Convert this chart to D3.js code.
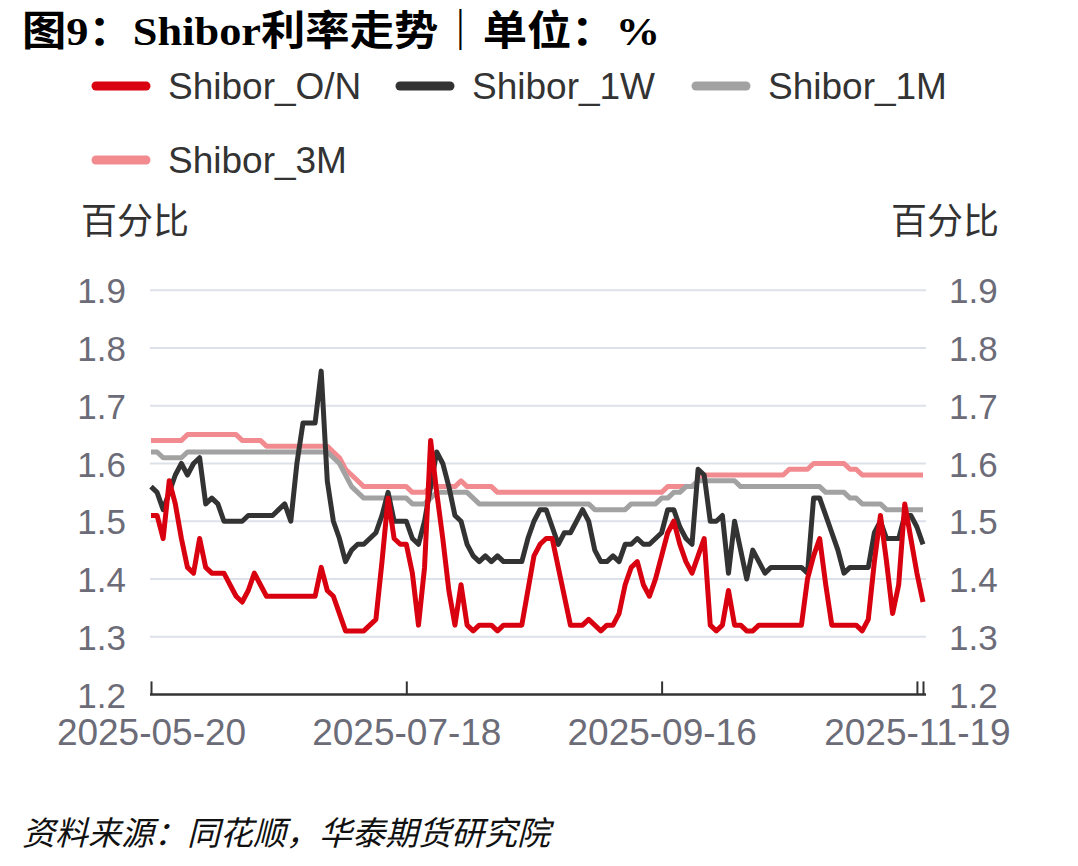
<!DOCTYPE html>
<html><head><meta charset="utf-8">
<script src="https://cdn.jsdelivr.net/npm/d3@7"></script>
<style>body{margin:0;background:#fff}svg{display:block}</style>
</head><body><svg id="c" width="1078" height="866"></svg>
<script>
const seriesNames = ["Shibor_O/N","Shibor_1W","Shibor_1M","Shibor_3M"];
const seriesColors = ["#d9000f","#333333","#a2a2a2","#f28b90"];
const tickLabels = ["2025-05-20","2025-07-18","2025-09-16","2025-11-19"];
const tickIndex = [0,42,84,126];
const yTicks = [1.2,1.3,1.4,1.5,1.6,1.7,1.8,1.9];

const onValues = [
1.51,1.51,1.47,1.57,1.53,1.47,1.42,1.41,1.47,1.42,
1.41,1.41,1.41,1.39,1.37,1.36,1.38,1.41,1.39,1.37,
1.37,1.37,1.37,1.37,1.37,1.37,1.37,1.37,1.42,1.38,
1.37,1.34,1.31,1.31,1.31,1.31,1.32,1.33,1.43,1.54,
1.47,1.46,1.46,1.41,1.32,1.42,1.64,1.55,1.47,1.38,
1.32,1.39,1.32,1.31,1.32,1.32,1.32,1.31,1.32,1.32,
1.32,1.32,1.38,1.44,1.46,1.47,1.47,1.42,1.37,1.32,
1.32,1.32,1.33,1.32,1.31,1.32,1.32,1.34,1.39,1.42,
1.43,1.39,1.37,1.40,1.44,1.48,1.50,1.46,1.43,1.41,
1.44,1.47,1.32,1.31,1.32,1.38,1.32,1.32,1.31,1.31,
1.32,1.32,1.32,1.32,1.32,1.32,1.32,1.32,1.40,1.44,
1.47,1.39,1.32,1.32,1.32,1.32,1.32,1.31,1.33,1.43,
1.51,1.43,1.34,1.39,1.53,1.47,1.41,1.36];

const w1Values = [
1.56,1.55,1.52,1.55,1.58,1.60,1.58,1.60,1.61,1.53,
1.54,1.53,1.50,1.50,1.50,1.50,1.51,1.51,1.51,1.51,
1.51,1.52,1.53,1.50,1.60,1.67,1.67,1.67,1.76,1.57,
1.50,1.47,1.43,1.45,1.46,1.46,1.47,1.48,1.51,1.55,
1.50,1.50,1.50,1.47,1.46,1.50,1.56,1.62,1.60,1.56,
1.51,1.50,1.46,1.44,1.43,1.44,1.43,1.44,1.43,1.43,
1.43,1.43,1.47,1.50,1.52,1.52,1.49,1.46,1.48,1.48,
1.50,1.52,1.50,1.45,1.43,1.43,1.44,1.43,1.46,1.46,
1.47,1.46,1.46,1.47,1.48,1.52,1.52,1.49,1.47,1.46,
1.59,1.58,1.50,1.50,1.51,1.41,1.50,1.45,1.40,1.45,
1.43,1.41,1.42,1.42,1.42,1.42,1.42,1.42,1.41,1.54,
1.54,1.51,1.48,1.45,1.41,1.42,1.42,1.42,1.42,1.48,
1.50,1.47,1.47,1.47,1.51,1.51,1.49,1.46];

const m1Values = [
1.62,1.62,1.61,1.61,1.61,1.61,1.62,1.62,1.62,1.62,
1.62,1.62,1.62,1.62,1.62,1.62,1.62,1.62,1.62,1.62,
1.62,1.62,1.62,1.62,1.62,1.62,1.62,1.62,1.62,1.62,
1.61,1.60,1.58,1.56,1.55,1.54,1.54,1.54,1.54,1.54,
1.54,1.54,1.54,1.53,1.53,1.53,1.54,1.55,1.55,1.55,
1.55,1.55,1.55,1.54,1.53,1.53,1.53,1.53,1.53,1.53,
1.53,1.53,1.53,1.53,1.53,1.53,1.53,1.53,1.53,1.53,
1.53,1.53,1.53,1.52,1.52,1.52,1.52,1.52,1.52,1.53,
1.53,1.53,1.53,1.53,1.54,1.54,1.55,1.55,1.56,1.56,
1.57,1.57,1.57,1.57,1.57,1.57,1.57,1.56,1.56,1.56,
1.56,1.56,1.56,1.56,1.56,1.56,1.56,1.56,1.56,1.56,
1.56,1.55,1.55,1.55,1.55,1.54,1.54,1.53,1.53,1.53,
1.53,1.52,1.52,1.52,1.52,1.52,1.52,1.52];

const m3Values = [
1.64,1.64,1.64,1.64,1.64,1.64,1.65,1.65,1.65,1.65,
1.65,1.65,1.65,1.65,1.65,1.64,1.64,1.64,1.64,1.63,
1.63,1.63,1.63,1.63,1.63,1.63,1.63,1.63,1.63,1.63,
1.62,1.61,1.59,1.58,1.57,1.56,1.56,1.56,1.56,1.56,
1.56,1.56,1.56,1.55,1.55,1.55,1.56,1.56,1.56,1.56,
1.56,1.57,1.56,1.56,1.56,1.56,1.56,1.55,1.55,1.55,
1.55,1.55,1.55,1.55,1.55,1.55,1.55,1.55,1.55,1.55,
1.55,1.55,1.55,1.55,1.55,1.55,1.55,1.55,1.55,1.55,
1.55,1.55,1.55,1.55,1.55,1.56,1.56,1.56,1.56,1.56,
1.57,1.58,1.58,1.58,1.58,1.58,1.58,1.58,1.58,1.58,
1.58,1.58,1.58,1.58,1.58,1.59,1.59,1.59,1.59,1.60,
1.60,1.60,1.60,1.60,1.60,1.59,1.59,1.58,1.58,1.58,
1.58,1.58,1.58,1.58,1.58,1.58,1.58,1.58];

const allSeries = [onValues, w1Values, m1Values, m3Values];

const svg = d3.select("#c");
const x = d3.scaleLinear().domain([0, onValues.length - 1]).range([151, 923]);
const y = d3.scaleLinear().domain([1.2, 1.9]).range([694.4, 290.3]);

const sansFont = "'Liberation Sans', Arial, 'Noto Sans CJK SC', sans-serif";
const cjkFont = "'Noto Sans CJK SC', sans-serif";

// Title
svg.append("text")
  .attr("x", 22).attr("y", 45)
  .attr("font-family", "'Liberation Serif', 'Noto Sans CJK SC', serif")
  .attr("font-weight", "bold").attr("font-size", 41).attr("fill", "#000")
  .attr("textLength", 638).attr("lengthAdjust", "spacingAndGlyphs")
  .text("图9：Shibor利率走势｜单位：%");

// Legend
const legendPos = [[92, 86], [396, 86], [692, 86], [92, 160]];
seriesNames.forEach((name, i) => {
  const [lx, ly] = legendPos[i];
  svg.append("line").attr("x1", lx + 4).attr("x2", lx + 54).attr("y1", ly).attr("y2", ly)
    .attr("stroke", seriesColors[i]).attr("stroke-width", 9).attr("stroke-linecap", "round");
  svg.append("text").attr("x", lx + 76).attr("y", ly + 13)
    .attr("font-family", sansFont).attr("font-size", 37).attr("fill", "#333")
    .text(name);
});

// Axis name labels
svg.append("text").attr("x", 81).attr("y", 234).attr("font-family", cjkFont)
  .attr("font-size", 36).attr("fill", "#333").text("百分比");
svg.append("text").attr("x", 999).attr("y", 234).attr("text-anchor", "end").attr("font-family", cjkFont)
  .attr("font-size", 36).attr("fill", "#333").text("百分比");

// Grid lines
svg.append("g").selectAll("line").data(yTicks.filter(t => t > 1.2)).join("line")
  .attr("x1", 150).attr("x2", 926).attr("y1", d => y(d)).attr("y2", d => y(d))
  .attr("stroke", "#dde1ea").attr("stroke-width", 2);

// Y axes labels
const leftAxis = d3.axisLeft(y).tickValues(yTicks).tickSize(0).tickPadding(0).tickFormat(d3.format(".1f"));
const gl = svg.append("g").attr("transform", "translate(126,0)").call(leftAxis);
gl.select(".domain").remove();
gl.selectAll("text").attr("font-family", sansFont).attr("font-size", 35).attr("fill", "#6c6c78").attr("dy", "0.36em");

const rightAxis = d3.axisRight(y).tickValues(yTicks).tickSize(0).tickPadding(0).tickFormat(d3.format(".1f"));
const gr = svg.append("g").attr("transform", "translate(949,0)").call(rightAxis);
gr.select(".domain").remove();
gr.selectAll("text").attr("font-family", sansFont).attr("font-size", 35).attr("fill", "#6c6c78").attr("dy", "0.36em");

// X axis
const xAxis = d3.axisBottom(x).tickValues(tickIndex.concat([onValues.length - 1]))
  .tickSizeInner(-13).tickSizeOuter(0).tickPadding(24)
  .tickFormat(d => { const k = tickIndex.indexOf(d); return k >= 0 ? tickLabels[k] : ""; });
const gx = svg.append("g").attr("transform", `translate(0,${y(1.2)})`).call(xAxis);
gx.select(".domain").attr("stroke", "#333").attr("stroke-width", 2.5).attr("d", `M150,0H${x(onValues.length - 1) + 3}`);
gx.selectAll(".tick line").attr("stroke", "#333").attr("stroke-width", 2);
gx.selectAll("text").attr("font-family", sansFont).attr("font-size", 37).attr("fill", "#6c6c78").attr("dy", "0.71em");

// Lines (draw 3M first, O/N last on top)
const line = d3.line().x((d, i) => x(i)).y(d => y(d)).curve(d3.curveLinear);
[3, 2, 1, 0].forEach(k => {
  svg.append("path").datum(allSeries[k]).attr("d", line)
    .attr("fill", "none").attr("stroke", seriesColors[k]).attr("stroke-width", 5)
    .attr("stroke-linejoin", "round").attr("stroke-linecap", "butt");
});

// Source
svg.append("text").attr("x", 22).attr("y", 845)
  .attr("font-family", cjkFont).attr("font-style", "italic").attr("font-size", 33).attr("fill", "#111")
  .text("资料来源：同花顺，华泰期货研究院");
</script>
</body></html>
